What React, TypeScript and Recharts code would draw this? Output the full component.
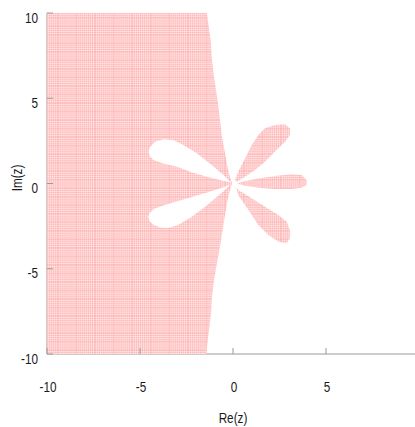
import React from 'react';
import { ScatterChart, Scatter, XAxis, YAxis } from 'recharts';

// Stability region in the complex plane, sampled on a grid.
// Each outline below is listed as { re, im } vertices, traced in order.

const X_TICKS = [-10, -5, 0, 5];
const Y_TICKS = [-10, -5, 0, 5, 10];

// Main stable half-region (left of the boundary curve)
const leftRegion = [
  { re: -10, im: 10 },
  { re: -1.41, im: 10 },
  { re: -1.2, im: 8.42 },
  { re: -1.13, im: 7.24 },
  { re: -1.02, im: 6.25 },
  { re: -0.81, im: 4.72 },
  { re: -0.7, im: 3.72 },
  { re: -0.59, im: 2.73 },
  { re: -0.43, im: 1.79 },
  { re: -0.32, im: 1.09 },
  { re: -0.19, im: 0.5 },
  { re: -0.05, im: 0 },
  { re: -0.19, im: -0.5 },
  { re: -0.32, im: -1.14 },
  { re: -0.43, im: -1.85 },
  { re: -0.56, im: -2.73 },
  { re: -0.7, im: -3.72 },
  { re: -0.86, im: -4.66 },
  { re: -1.02, im: -5.66 },
  { re: -1.13, im: -6.66 },
  { re: -1.18, im: -7.6 },
  { re: -1.29, im: -8.59 },
  { re: -1.4, im: -9.59 },
  { re: -1.42, im: -10 },
  { re: -10, im: -10 },
];

// Unstable lobes cut out of the left region
const upperLeftLobe = [
  { re: -0.11, im: 0.06 },
  { re: -0.52, im: 0.5 },
  { re: -1.24, im: 1.18 },
  { re: -1.95, im: 1.77 },
  { re: -2.67, im: 2.26 },
  { re: -3.21, im: 2.55 },
  { re: -3.75, im: 2.59 },
  { re: -4.19, im: 2.45 },
  { re: -4.46, im: 2.14 },
  { re: -4.54, im: 1.85 },
  { re: -4.46, im: 1.58 },
  { re: -4.28, im: 1.38 },
  { re: -3.75, im: 1.18 },
  { re: -3.03, im: 0.99 },
  { re: -2.31, im: 0.69 },
  { re: -1.41, im: 0.4 },
  { re: -0.52, im: 0.16 },
];

const lowerLeftLobe = [
  { re: -0.16, im: -0.06 },
  { re: -0.54, im: -0.23 },
  { re: -1.4, im: -0.53 },
  { re: -2.31, im: -0.82 },
  { re: -3.12, im: -1.09 },
  { re: -3.76, im: -1.29 },
  { re: -4.25, im: -1.5 },
  { re: -4.49, im: -1.73 },
  { re: -4.55, im: -1.96 },
  { re: -4.49, im: -2.2 },
  { re: -4.3, im: -2.4 },
  { re: -3.92, im: -2.58 },
  { re: -3.49, im: -2.61 },
  { re: -2.96, im: -2.43 },
  { re: -2.31, im: -2.02 },
  { re: -1.51, im: -1.38 },
  { re: -0.81, im: -0.73 },
  { re: -0.27, im: -0.21 },
];

// Stable petals in the right half-plane
const upperRightPetal = [
  { re: 0.11, im: 0.21 },
  { re: 0.28, im: 0.69 },
  { re: 0.65, im: 1.48 },
  { re: 1.01, im: 2.26 },
  { re: 1.36, im: 2.84 },
  { re: 1.72, im: 3.24 },
  { re: 2.26, im: 3.43 },
  { re: 2.8, im: 3.47 },
  { re: 3.06, im: 3.24 },
  { re: 3.06, im: 2.84 },
  { re: 2.8, im: 2.45 },
  { re: 2.26, im: 1.87 },
  { re: 1.72, im: 1.28 },
  { re: 1.18, im: 0.79 },
  { re: 0.65, im: 0.4 },
  { re: 0.2, im: 0.11 },
];

const rightPetal = [
  { re: 0.22, im: 0 },
  { re: 0.65, im: 0.15 },
  { re: 1.36, im: 0.3 },
  { re: 2.26, im: 0.44 },
  { re: 3.16, im: 0.54 },
  { re: 3.69, im: 0.5 },
  { re: 3.96, im: 0.21 },
  { re: 3.96, im: -0.09 },
  { re: 3.69, im: -0.25 },
  { re: 3.16, im: -0.32 },
  { re: 2.26, im: -0.32 },
  { re: 1.36, im: -0.25 },
  { re: 0.65, im: -0.13 },
];

const lowerRightPetal = [
  { re: 0.16, im: -0.21 },
  { re: 0.28, im: -0.38 },
  { re: 1.01, im: -0.87 },
  { re: 1.72, im: -1.36 },
  { re: 2.44, im: -1.85 },
  { re: 2.89, im: -2.24 },
  { re: 3.06, im: -2.73 },
  { re: 3.06, im: -3.21 },
  { re: 2.89, im: -3.51 },
  { re: 2.44, im: -3.41 },
  { re: 1.9, im: -3.02 },
  { re: 1.36, im: -2.43 },
  { re: 1.01, im: -1.85 },
  { re: 0.65, im: -1.26 },
  { re: 0.28, im: -0.67 },
];

const FONT = "'Liberation Sans', Arial, sans-serif";
const AXIS_COLOR = '#9a9a9a';
const TEXT_COLOR = '#1a1a1a';
const GRID_FILL = 'url(#stableGrid)';
const NARROW = 0.84;

// grid cells of the sampled stable points (10 per tile in each direction)
const CELL_W = 1.86;
const CELL_H = 1.705;
const CELLS = [0, 1, 2, 3, 4, 5, 6, 7, 8, 9];

const noMarker = () => <g />;

const NarrowText = ({ x, y, anchor, children }: any) => (
  <text
    transform={`translate(${x},${y}) scale(${NARROW},1)`}
    textAnchor={anchor}
    fontFamily={FONT}
    fontSize={14}
    fill={TEXT_COLOR}
  >
    {children}
  </text>
);

const LeftTick = (props: any) => {
  const { x, y, payload } = props;
  return (
    <g>
      <line x1={x} x2={x + 6} y1={y} y2={y} stroke={AXIS_COLOR} />
      <NarrowText x={x - 9} y={y + 9.5} anchor="end">
        {payload.value}
      </NarrowText>
    </g>
  );
};

const BottomTick = (props: any) => {
  const { x, y, payload } = props;
  return (
    <g>
      <line x1={x} x2={x} y1={y} y2={y - 6} stroke={AXIS_COLOR} />
      <NarrowText x={x + 1} y={y + 38} anchor="middle">
        {payload.value}
      </NarrowText>
    </g>
  );
};

const TopTick = (props: any) => {
  const { x, y } = props;
  return <line x1={x} x2={x} y1={y} y2={y + 6} stroke={AXIS_COLOR} />;
};

const ReLabel = () => (
  <NarrowText x={233} y={423} anchor="middle">
    Re(z)
  </NarrowText>
);

const ImLabel = () => (
  <text
    transform={`translate(21.5,178) rotate(-90) scale(${NARROW},1)`}
    textAnchor="middle"
    fontFamily={FONT}
    fontSize={14}
    fill={TEXT_COLOR}
  >
    Im(z)
  </text>
);

export default function App() {
  return (
    <div style={{ position: 'fixed', left: 0, top: 0, width: 415, height: 427, overflow: 'hidden', background: '#fff' }}>
      <ScatterChart width={430} height={427} margin={{ top: 13, right: 11, bottom: 0, left: 0 }}>
        <defs>
          <pattern
            id="stableGrid"
            patternUnits="userSpaceOnUse"
            x={47}
            y={13}
            width={CELL_W * 10}
            height={CELL_H * 10}
          >
            <rect width={CELL_W * 10} height={CELL_H * 10} fill="#fff0f0" />
            {CELLS.map((i) => (
              <rect
                key={`c${i}`}
                x={i * CELL_W}
                width={1.05}
                height={CELL_H * 10}
                fill="#ff9898"
                fillOpacity={0.42}
                shapeRendering="crispEdges"
              />
            ))}
            {CELLS.map((i) => (
              <rect
                key={`r${i}`}
                y={i * CELL_H}
                width={CELL_W * 10}
                height={0.95}
                fill="#ff9898"
                fillOpacity={0.42}
                shapeRendering="crispEdges"
              />
            ))}
          </pattern>
        </defs>
        <XAxis
          xAxisId="bottom"
          type="number"
          dataKey="re"
          domain={[-10, 10]}
          ticks={X_TICKS}
          allowDataOverflow
          height={73}
          tickSize={0}
          tickMargin={0}
          tick={BottomTick}
          axisLine={{ stroke: AXIS_COLOR }}
          label={ReLabel}
        />
        <XAxis
          xAxisId="top"
          orientation="top"
          type="number"
          dataKey="re"
          domain={[-10, 10]}
          ticks={X_TICKS}
          allowDataOverflow
          height={0}
          tickSize={0}
          tickMargin={0}
          tick={TopTick}
          axisLine={{ stroke: AXIS_COLOR }}
        />
        <YAxis
          type="number"
          dataKey="im"
          domain={[-10, 10]}
          ticks={Y_TICKS}
          allowDataOverflow
          width={47}
          tickSize={0}
          tickMargin={0}
          tick={LeftTick}
          axisLine={{ stroke: AXIS_COLOR }}
          label={ImLabel}
        />
        <Scatter
          xAxisId="bottom"
          data={leftRegion}
          shape={noMarker}
          line={{ fill: GRID_FILL, stroke: 'none' }}
          lineType="joint"
          isAnimationActive={false}
        />
        <Scatter
          xAxisId="bottom"
          data={upperLeftLobe}
          shape={noMarker}
          line={{ fill: '#ffffff', stroke: 'none' }}
          lineType="joint"
          isAnimationActive={false}
        />
        <Scatter
          xAxisId="bottom"
          data={lowerLeftLobe}
          shape={noMarker}
          line={{ fill: '#ffffff', stroke: 'none' }}
          lineType="joint"
          isAnimationActive={false}
        />
        <Scatter
          xAxisId="bottom"
          data={upperRightPetal}
          shape={noMarker}
          line={{ fill: GRID_FILL, stroke: 'none' }}
          lineType="joint"
          isAnimationActive={false}
        />
        <Scatter
          xAxisId="bottom"
          data={rightPetal}
          shape={noMarker}
          line={{ fill: GRID_FILL, stroke: 'none' }}
          lineType="joint"
          isAnimationActive={false}
        />
        <Scatter
          xAxisId="bottom"
          data={lowerRightPetal}
          shape={noMarker}
          line={{ fill: GRID_FILL, stroke: 'none' }}
          lineType="joint"
          isAnimationActive={false}
        />
      </ScatterChart>
    </div>
  );
}
